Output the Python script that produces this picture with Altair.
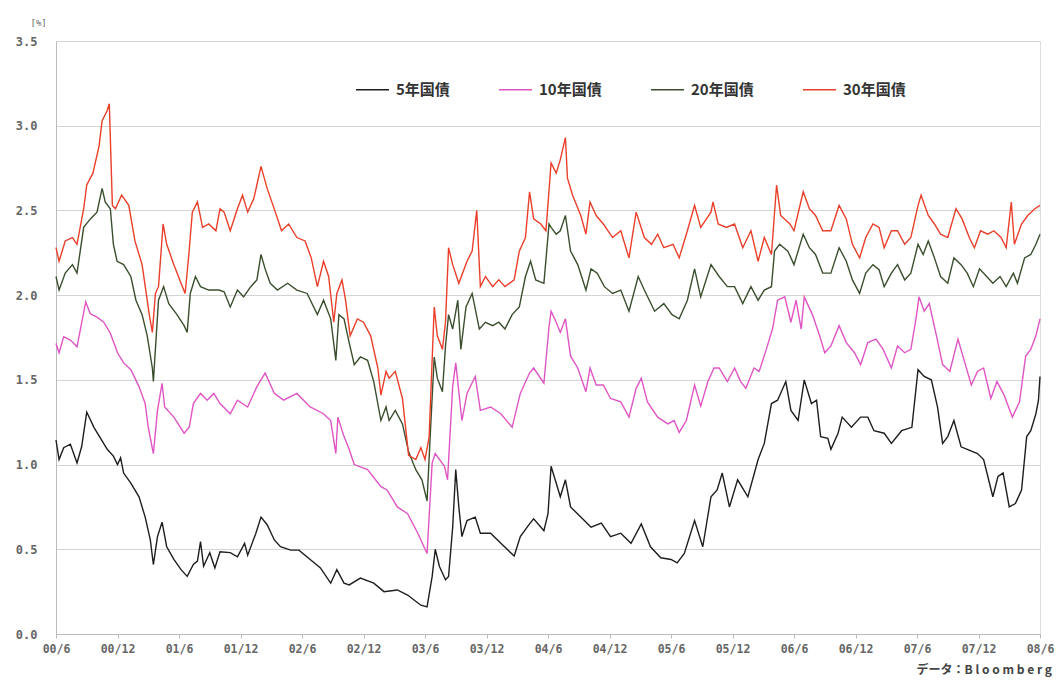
import altair as alt
import pandas as pd

# Month offsets from 2000/6 and yields (%)
m5 = [0.0, 0.3, 0.75, 1.4, 2.05, 2.5, 3.0, 3.7, 5.0, 5.6, 6.0, 6.3, 6.6, 7.3, 8.1, 8.7, 9.2, 9.5, 9.9,
      10.35, 10.8, 11.5, 12.2, 12.8, 13.4, 13.8, 14.1, 14.4, 15.0, 15.5, 16.0, 17.0, 17.7, 18.4, 18.7,
      19.5, 20.0, 20.6, 21.3, 21.9, 22.9, 23.7, 24.8, 25.8, 26.8, 27.4, 28.1, 28.6, 29.7, 31.0, 32.0,
      33.3, 34.3, 35.6, 36.2, 36.7, 37.0, 37.4, 38.0, 38.3, 38.7, 39.0, 39.3, 39.6, 40.1, 40.9, 41.4,
      42.4, 43.4, 44.7, 45.3, 46.2, 46.6, 47.6, 48.0, 48.3, 48.7, 49.2, 49.7, 50.2, 51.2, 52.2, 53.2,
      54.1, 55.1, 56.1, 57.1, 58.0, 59.0, 60.0, 60.6, 61.3, 62.3, 63.1, 63.9, 64.5, 65.0, 65.7, 66.5,
      67.5, 68.5, 69.1, 69.8, 70.4, 71.2, 71.7, 72.4, 73.0, 73.7, 74.2, 74.6, 75.3, 75.6, 76.3, 76.7,
      77.6, 78.5, 79.2, 79.8, 80.8, 81.5, 82.5, 83.5, 84.1, 84.7, 85.4, 86.0, 86.5, 87.0, 87.6, 88.3,
      88.9, 89.9, 90.5, 91.4, 91.9, 92.4, 93.0, 93.6, 94.2, 94.7, 95.1, 95.6, 95.85, 96.0]
v5 = [1.145, 1.03, 1.10, 1.12, 1.01, 1.105, 1.31, 1.22, 1.09, 1.05, 1.00, 1.04, 0.95, 0.89, 0.81, 0.69,
      0.555, 0.41, 0.575, 0.66, 0.515, 0.44, 0.38, 0.34, 0.41, 0.43, 0.545, 0.40, 0.48, 0.39, 0.485,
      0.48, 0.456, 0.535, 0.465, 0.595, 0.69, 0.645, 0.555, 0.515, 0.495, 0.495, 0.44, 0.39, 0.30, 0.38,
      0.30, 0.29, 0.33, 0.30, 0.25, 0.26, 0.23, 0.17, 0.16, 0.34, 0.50, 0.40, 0.32, 0.34, 0.63, 0.97,
      0.75, 0.575, 0.67, 0.69, 0.595, 0.595, 0.535, 0.46, 0.575, 0.65, 0.68, 0.61, 0.71, 0.99, 0.91,
      0.81, 0.91, 0.75, 0.69, 0.63, 0.655, 0.575, 0.595, 0.535, 0.65, 0.515, 0.45, 0.44, 0.42, 0.475,
      0.67, 0.515, 0.81, 0.85, 0.95, 0.75, 0.91, 0.81, 1.03, 1.125, 1.36, 1.38, 1.49, 1.32, 1.26, 1.50,
      1.36, 1.38, 1.165, 1.155, 1.09, 1.185, 1.28, 1.22, 1.28, 1.28, 1.20, 1.185, 1.125, 1.20, 1.22,
      1.56, 1.52, 1.50, 1.34, 1.125, 1.165, 1.26, 1.105, 1.09, 1.065, 1.03, 0.81, 0.93, 0.95, 0.75,
      0.77, 0.85, 1.165, 1.20, 1.30, 1.38, 1.52]

m10 = [0.0, 0.3, 0.75, 1.4, 2.05, 2.9, 3.35, 4.0, 4.66, 5.3, 6.0, 6.6, 7.3, 8.1, 8.7, 9.0, 9.5, 9.9,
       10.35, 10.6, 11.5, 12.5, 13.0, 13.4, 14.1, 14.75, 15.4, 16.0, 17.0, 17.7, 18.7, 19.6, 20.4,
       21.3, 22.2, 23.5, 24.8, 26.1, 26.8, 27.3, 27.5, 28.1, 28.6, 29.1, 30.4, 31.7, 32.3, 33.3, 34.3,
       35.3, 36.2, 36.7, 37.0, 37.9, 38.2, 38.7, 39.0, 39.6, 40.1, 40.9, 41.4, 42.4, 43.4, 44.5, 45.3,
       46.2, 46.6, 47.6, 48.1, 48.3, 48.8, 49.2, 49.7, 50.2, 50.9, 51.7, 52.1, 52.7, 53.4, 54.1, 55.1,
       55.9, 56.6, 57.1, 57.7, 58.7, 59.7, 60.3, 60.8, 61.5, 62.3, 62.9, 63.6, 64.2, 64.7, 65.5, 66.2,
       66.8, 67.3, 68.1, 68.6, 69.3, 69.9, 70.4, 71.1, 71.7, 72.2, 72.7, 73.0, 73.8, 74.5, 75.0, 75.6,
       76.4, 77.1, 77.9, 78.5, 79.2, 80.0, 80.7, 81.5, 82.1, 82.8, 83.4, 83.9, 84.2, 84.7, 85.2, 85.9,
       86.5, 87.2, 88.0, 88.6, 89.3, 89.9, 90.5, 91.2, 91.8, 92.5, 93.3, 94.0, 94.6, 95.1, 95.6, 96.0]
v10 = [1.715, 1.66, 1.755, 1.735, 1.695, 1.96, 1.89, 1.87, 1.84, 1.775, 1.66, 1.60, 1.56, 1.46, 1.36,
       1.22, 1.065, 1.32, 1.48, 1.34, 1.28, 1.185, 1.22, 1.36, 1.42, 1.38, 1.42, 1.36, 1.30, 1.38, 1.34,
       1.46, 1.54, 1.42, 1.38, 1.42, 1.34, 1.30, 1.26, 1.065, 1.28, 1.165, 1.09, 1.00, 0.97, 0.87, 0.85,
       0.75, 0.71, 0.595, 0.475, 1.01, 1.065, 0.99, 0.91, 1.46, 1.60, 1.26, 1.42, 1.52, 1.32, 1.34, 1.30,
       1.22, 1.42, 1.54, 1.57, 1.48, 1.815, 1.905, 1.84, 1.78, 1.86, 1.64, 1.57, 1.43, 1.57, 1.47, 1.47,
       1.39, 1.37, 1.28, 1.45, 1.51, 1.37, 1.28, 1.24, 1.26, 1.19, 1.26, 1.47, 1.345, 1.49, 1.57, 1.57,
       1.49, 1.57, 1.49, 1.45, 1.57, 1.55, 1.68, 1.80, 1.97, 1.99, 1.84, 1.97, 1.80, 1.99, 1.885, 1.76,
       1.66, 1.70, 1.82, 1.72, 1.66, 1.59, 1.72, 1.74, 1.68, 1.57, 1.70, 1.66, 1.68, 1.86, 1.99, 1.905,
       1.95, 1.76, 1.59, 1.55, 1.74, 1.615, 1.47, 1.55, 1.57, 1.39, 1.49, 1.41, 1.28, 1.37, 1.64, 1.68,
       1.76, 1.86]

m20 = [0.0, 0.3, 0.9, 1.6, 2.05, 2.7, 3.35, 4.0, 4.5, 4.8, 5.3, 5.6, 5.96, 6.6, 7.3, 7.8, 8.4, 8.9,
       9.4, 9.5, 10.0, 10.5, 11.0, 11.8, 12.5, 12.8, 13.1, 13.6, 14.1, 14.9, 15.9, 16.4, 17.0, 17.7,
       18.3, 19.0, 19.6, 20.0, 20.4, 20.9, 21.6, 22.6, 23.5, 24.5, 25.5, 26.1, 26.8, 27.3, 27.6, 28.1,
       28.6, 29.1, 29.7, 30.4, 31.0, 31.7, 32.2, 32.5, 33.1, 33.8, 34.4, 35.1, 35.7, 36.2, 36.55, 36.9,
       37.2, 37.7, 38.0, 38.3, 38.7, 39.2, 39.5, 40.0, 40.6, 41.3, 41.9, 42.6, 43.2, 43.8, 44.5, 45.2,
       45.8, 46.3, 46.8, 47.6, 48.1, 48.3, 48.8, 49.2, 49.7, 50.2, 50.9, 51.7, 52.2, 52.8, 53.5, 54.3,
       55.1, 55.9, 56.8, 57.4, 58.4, 59.3, 60.1, 60.8, 61.6, 62.3, 62.9, 63.9, 64.7, 65.5, 66.2, 67.0,
       67.8, 68.5, 69.1, 69.8, 70.1, 70.6, 71.4, 72.0, 72.9, 73.5, 74.1, 74.8, 75.6, 76.4, 77.1, 77.7,
       78.4, 79.0, 79.7, 80.3, 80.8, 81.5, 82.1, 82.8, 83.4, 84.1, 84.6, 85.1, 85.7, 86.3, 87.0, 87.6,
       88.3, 88.9, 89.5, 90.1, 90.8, 91.4, 92.1, 92.7, 93.4, 93.8, 94.5, 95.1, 95.6, 96.0]
v20 = [2.11, 2.03, 2.13, 2.18, 2.13, 2.40, 2.45, 2.49, 2.63, 2.55, 2.51, 2.30, 2.20, 2.18, 2.11, 1.97,
       1.885, 1.76, 1.57, 1.49, 1.97, 2.05, 1.95, 1.885, 1.82, 1.78, 2.01, 2.11, 2.05, 2.03, 2.03, 2.02,
       1.93, 2.03, 1.99, 2.05, 2.09, 2.24, 2.155, 2.07, 2.03, 2.07, 2.03, 2.01, 1.885, 1.97, 1.86, 1.615,
       1.885, 1.86, 1.72, 1.59, 1.635, 1.615, 1.49, 1.26, 1.34, 1.26, 1.32, 1.24, 1.075, 0.97, 0.91,
       0.785, 1.22, 1.635, 1.51, 1.43, 1.70, 1.885, 1.80, 1.97, 1.68, 1.93, 2.01, 1.80, 1.84, 1.82, 1.84,
       1.80, 1.885, 1.93, 2.11, 2.20, 2.09, 2.07, 2.42, 2.40, 2.36, 2.38, 2.47, 2.26, 2.18, 2.03, 2.155,
       2.13, 2.05, 2.01, 2.03, 1.905, 2.11, 2.03, 1.905, 1.95, 1.885, 1.86, 1.97, 2.155, 1.99, 2.18,
       2.11, 2.05, 2.05, 1.95, 2.05, 1.97, 2.03, 2.05, 2.26, 2.30, 2.26, 2.18, 2.36, 2.28, 2.24, 2.13,
       2.13, 2.28, 2.20, 2.09, 2.01, 2.13, 2.18, 2.15, 2.05, 2.13, 2.18, 2.09, 2.13, 2.30, 2.24, 2.32,
       2.22, 2.11, 2.07, 2.22, 2.18, 2.13, 2.05, 2.155, 2.11, 2.07, 2.11, 2.05, 2.13, 2.07, 2.22, 2.24,
       2.30, 2.36]

m30 = [0.0, 0.3, 0.9, 1.6, 2.05, 2.7, 3.0, 3.6, 4.2, 4.5, 5.0, 5.2, 5.5, 5.8, 6.4, 7.1, 7.7, 8.4, 9.1,
       9.4, 9.7, 10.0, 10.45, 10.8, 11.5, 12.2, 12.6, 12.96, 13.3, 13.8, 14.3, 14.9, 15.6, 16.0, 16.4,
       17.0, 17.7, 18.2, 18.7, 19.3, 20.0, 20.6, 21.4, 22.0, 22.7, 23.5, 24.3, 24.9, 25.5, 26.1, 26.6,
       27.1, 27.4, 27.9, 28.25, 28.7, 29.4, 30.0, 30.7, 31.4, 31.7, 32.2, 32.5, 33.1, 33.8, 34.4, 35.1,
       35.6, 36.0, 36.4, 36.9, 37.2, 37.7, 38.0, 38.3, 38.7, 39.3, 40.1, 40.6, 41.05, 41.4, 41.9, 42.6,
       43.2, 43.8, 44.7, 45.2, 45.8, 46.2, 46.6, 47.3, 47.8, 48.3, 48.8, 49.2, 49.7, 49.9, 50.4, 51.2,
       51.7, 52.1, 52.7, 53.4, 54.3, 55.1, 55.9, 56.6, 57.4, 58.1, 58.7, 59.3, 60.2, 60.8, 61.6, 62.3,
       62.9, 63.9, 64.1, 64.6, 65.4, 66.2, 67.0, 67.8, 68.5, 69.1, 69.8, 70.3, 70.7, 71.6, 72.0, 72.9,
       73.5, 74.1, 74.8, 75.6, 76.4, 77.1, 77.7, 78.4, 79.0, 79.7, 80.3, 80.8, 81.5, 82.1, 82.8, 83.4,
       84.1, 84.4, 85.1, 85.7, 86.3, 87.0, 87.8, 88.4, 89.1, 89.6, 90.2, 90.9, 91.5, 92.2, 92.7, 93.2,
       93.5, 94.2, 94.8, 95.5, 96.0]
v30 = [2.28, 2.20, 2.32, 2.34, 2.30, 2.51, 2.65, 2.72, 2.88, 3.03, 3.09, 3.13, 2.53, 2.51, 2.59, 2.53,
       2.32, 2.18, 1.885, 1.78, 2.01, 2.05, 2.42, 2.30, 2.18, 2.07, 2.01, 2.24, 2.49, 2.55, 2.40, 2.42,
       2.38, 2.51, 2.49, 2.38, 2.51, 2.59, 2.49, 2.57, 2.76, 2.63, 2.49, 2.38, 2.42, 2.34, 2.32, 2.22,
       2.05, 2.20, 2.11, 1.84, 2.01, 2.09, 1.97, 1.76, 1.86, 1.84, 1.76, 1.57, 1.41, 1.55, 1.51, 1.55,
       1.39, 1.055, 1.03, 1.10, 1.03, 1.16, 1.93, 1.76, 1.68, 1.84, 2.28, 2.18, 2.07, 2.20, 2.26, 2.50,
       2.05, 2.11, 2.05, 2.09, 2.05, 2.09, 2.26, 2.34, 2.61, 2.45, 2.42, 2.38, 2.78, 2.72, 2.80, 2.93,
       2.69, 2.59, 2.47, 2.36, 2.55, 2.47, 2.42, 2.34, 2.38, 2.22, 2.49, 2.34, 2.30, 2.36, 2.28, 2.30,
       2.22, 2.38, 2.53, 2.40, 2.49, 2.55, 2.42, 2.40, 2.42, 2.28, 2.38, 2.20, 2.34, 2.24, 2.65, 2.47,
       2.42, 2.38, 2.61, 2.51, 2.47, 2.38, 2.38, 2.53, 2.45, 2.30, 2.22, 2.34, 2.42, 2.40, 2.28, 2.38,
       2.38, 2.30, 2.34, 2.53, 2.59, 2.47, 2.42, 2.36, 2.34, 2.51, 2.45, 2.34, 2.28, 2.38, 2.36, 2.38,
       2.34, 2.28, 2.55, 2.30, 2.42, 2.47, 2.51, 2.53]

series_names = ["5年国債", "10年国債", "20年国債", "30年国債"]
series_colors = ["#1e1e1e", "#e055c4", "#3b4f2e", "#ea3f2a"]
tick_labels = ["00/6", "00/12", "01/6", "01/12", "02/6", "02/12", "03/6", "03/12", "04/6",
               "04/12", "05/6", "05/12", "06/6", "06/12", "07/6", "07/12", "08/6"]
y_ticks = [0.0, 0.5, 1.0, 1.5, 2.0, 2.5, 3.0, 3.5]
source_text = "データ：B l o o m b e r g"
unit_text = "[%]"

frames = []
for name, ms, vs in zip(series_names, [m5, m10, m20, m30], [v5, v10, v20, v30]):
    frames.append(pd.DataFrame({"m": ms, "v": vs, "series": name}))
df = pd.concat(frames, ignore_index=True)

label_arr = "[" + ",".join("'" + t + "'" for t in tick_labels) + "]"
x_vals = [6 * i for i in range(len(tick_labels))]

lines = alt.Chart(df).mark_line(strokeWidth=1.4).encode(
    x=alt.X("m:Q", scale=alt.Scale(domain=[0, 96], nice=False, zero=False),
            axis=alt.Axis(values=x_vals, labelExpr=label_arr + "[round(datum.value/6)]",
                          title=None, grid=False, tickSize=4, tickColor="#bbbbbb",
                          domainColor="#bbbbbb", labelFont="DejaVu Sans Mono", labelFontSize=11.5,
                          labelFontWeight="bold", labelColor="#666666", labelPadding=5,
                          labelFlush=False, labelOverlap=False)),
    y=alt.Y("v:Q", scale=alt.Scale(domain=[0, 3.5], nice=False, zero=True),
            axis=alt.Axis(values=y_ticks, format=".1f", title=unit_text, titleAngle=0,
                          titleX=-26, titleY=-14, titleAlign="left", titleFontSize=9,
                          titleFont="DejaVu Sans Mono", titleFontWeight="normal", titleColor="#666666",
                          grid=True, gridColor="#d4d4d4", tickSize=0, domainColor="#bbbbbb",
                          labelFont="DejaVu Sans Mono", labelFontSize=12, labelFontWeight="bold",
                          labelColor="#666666", labelPadding=19)),
    color=alt.Color("series:N", scale=alt.Scale(domain=series_names, range=series_colors),
                    legend=alt.Legend(orient="none", legendX=299, legendY=31, direction="horizontal",
                                      title=None, symbolType="stroke", symbolSize=1089,
                                      symbolStrokeWidth=1.5, labelFont="Noto Sans CJK JP",
                                      labelFontSize=15, labelFontWeight="bold", labelColor="#333333",
                                      columnPadding=46, labelOffset=6, padding=0)),
    detail="series:N",
)

source = alt.Chart(pd.DataFrame({"t": [source_text]})).mark_text(
    align="right", baseline="alphabetic", fontSize=12, font="Noto Sans CJK JP",
    fontWeight="bold", color="#444444"
).encode(x=alt.value(996), y=alt.value(633), text="t:N")

chart = alt.layer(lines, source).properties(
    width=984, height=593,
    padding={"left": 48, "top": 33, "right": 14, "bottom": 44},
    autosize=alt.AutoSizeParams(type="none"),
).configure_view(stroke="#c4c4c4", strokeWidth=1).configure(background="white")

chart.save("out.html", embed_options={"renderer": "svg", "actions": False})
